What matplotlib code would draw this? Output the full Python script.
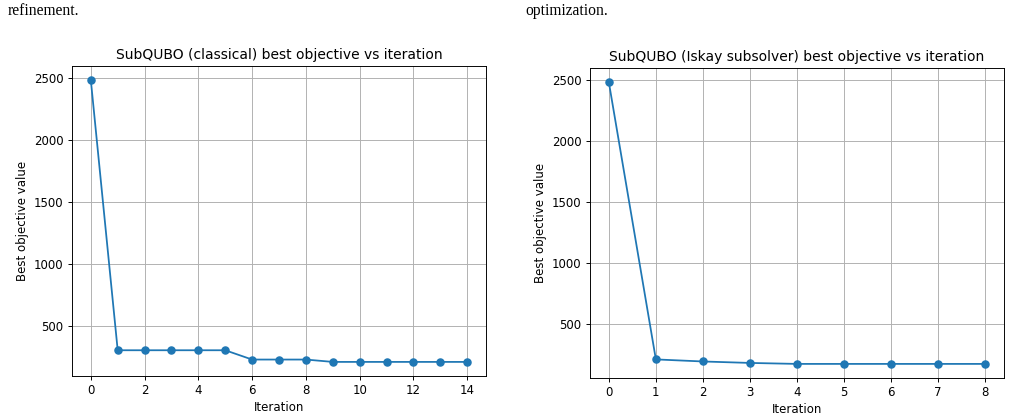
import matplotlib
matplotlib.use("Agg")
import matplotlib.pyplot as plt

iters_classical = list(range(15))
best_classical = [2484, 306, 306, 306, 306, 306, 231, 231, 231, 212, 212, 212, 212, 212, 212]

iters_iskay = list(range(9))
best_iskay = [2484, 205, 188, 176, 168, 168, 168, 168, 168]

title_classical = "SubQUBO (classical) best objective vs iteration"
title_iskay = "SubQUBO (Iskay subsolver) best objective vs iteration"
xlabel = "Iteration"
ylabel = "Best objective value"
caption_left = "refinement."
caption_right = "optimization."

W, H = 1012, 418
fig = plt.figure(figsize=(W / 100, H / 100), dpi=100)

scale = 0.85
fs = 10 * scale

def px_axes(l, t, r, b):
    return [l / W, 1 - b / H, (r - l) / W, (b - t) / H]

ax1 = fig.add_axes(px_axes(72, 66, 486, 376))
ax2 = fig.add_axes(px_axes(590, 68, 1004, 378))

for ax, x, y, title, xticks in [
    (ax1, iters_classical, best_classical, title_classical, range(0, 15, 2)),
    (ax2, iters_iskay, best_iskay, title_iskay, range(0, 9, 1)),
]:
    ax.plot(x, y, marker="o", color="#1f77b4", linewidth=1.5 * scale, markersize=6 * scale)
    ax.set_title(title, fontsize=10.0, pad=6 * scale)
    ax.set_xlabel(xlabel, fontsize=fs, labelpad=3 * scale)
    ax.set_ylabel(ylabel, fontsize=fs, labelpad=4 * scale)
    ax.set_xticks(list(xticks))
    ax.set_yticks([500, 1000, 1500, 2000, 2500])
    ax.tick_params(labelsize=fs, width=0.8 * scale, length=3.5 * scale, pad=3.5 * scale)
    ax.grid(True, color="#b0b0b0", linewidth=0.8 * scale)
    for s in ax.spines.values():
        s.set_linewidth(0.8 * scale)

fig.text(8 / W, 1 - 11 / H, caption_left, fontsize=11.2, family="Liberation Serif", va="center", ha="left")
fig.text(525 / W, 1 - 11 / H, caption_right, fontsize=11.2, family="Liberation Serif", va="center", ha="left")

fig.savefig("out.png", dpi=100, facecolor="white")
